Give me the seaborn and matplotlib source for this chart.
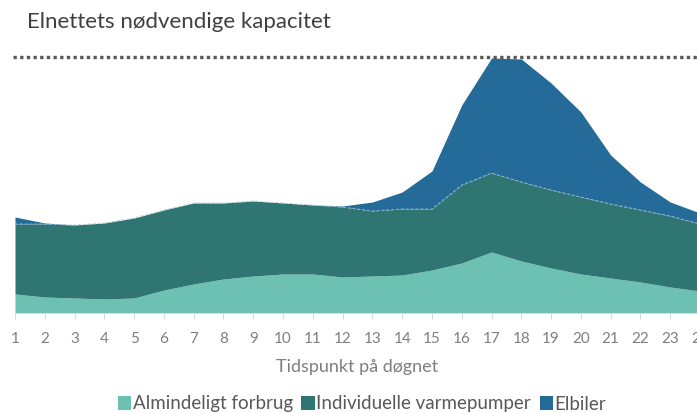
import matplotlib
matplotlib.use("Agg")
import matplotlib.pyplot as plt
import seaborn as sns
from matplotlib.patches import Patch

hours = list(range(1, 25))
almindeligt = [19, 16, 15, 14, 15, 23, 29, 34, 37, 39, 39, 36, 37, 38, 43, 50, 61, 52, 45, 39, 35, 31, 26, 22]
varmepumper = [70, 73, 73, 76, 80, 80, 81, 76, 75, 71, 69, 70, 65, 66, 61, 78, 79, 79, 78, 77, 74, 72, 71, 67]
elbiler = [7, 1, 0, 0, 0, 0, 0, 0, 0, 0, 0, 1, 9, 17, 38, 80, 115, 123, 107, 85, 49, 28, 14, 11]
kapacitet = 256
series_labels = ["Almindeligt forbrug", "Individuelle varmepumper", "Elbiler"]
title = "Elnettets nødvendige kapacitet"
xlabel = "Tidspunkt på døgnet"

colors = ["#6dc1b3", "#2f7571", "#246b99"]

sns.set_theme(style="white")
plt.rcParams['font.family'] = ['Lato', 'DejaVu Sans']

fig = plt.figure(figsize=(6.97, 4.13), dpi=100)
ax = fig.add_axes([15 / 697, 100 / 413, 685 / 697, 260 / 413])

ax.stackplot(hours, almindeligt, varmepumper, elbiler, colors=colors,
             labels=series_labels, linewidth=0)

# subtle dashed border on top of the heat-pump layer (visible under the EV layer)
teal_top = [a + v for a, v in zip(almindeligt, varmepumper)]
sns.lineplot(x=hours, y=teal_top, ax=ax, color="#a9c3cc", lw=0.7,
             linestyle=(0, (3, 2)), alpha=0.8, legend=False)

ax.plot([0.93, 24], [kapacitet, kapacitet], color="#5a5a5a", lw=2.4,
        linestyle=(0, (1, 1)), clip_on=False)

leg_old = ax.get_legend()
if leg_old is not None:
    leg_old.remove()

ax.set_xlim(1, 24)
ax.set_ylim(0, 260)
ax.set_xticks(hours)
ax.set_xticklabels([str(h) for h in hours])
ax.set_yticks([])
ax.set_ylabel("")
ax.tick_params(axis='x', bottom=True, length=4, width=0.8, color='#d9d9d9',
               labelcolor='#7f7f7f', labelsize=11, pad=10)
for s in ['left', 'top', 'right']:
    ax.spines[s].set_visible(False)
ax.spines['bottom'].set_color('#d9d9d9')
ax.spines['bottom'].set_linewidth(0.8)

ax.set_xlabel(xlabel, color='#7f7f7f', fontsize=13)
ax.xaxis.set_label_coords(0.5, -0.178)

fig.text(27 / 697, 1 - 22 / 413, title, va='center', ha='left',
         fontsize=16, color='#404040')

handles = [Patch(facecolor=c, edgecolor='none') for c in colors]
fig.legend(handles, series_labels, loc='center', bbox_to_anchor=(362 / 697, 9 / 413),
           ncol=3, frameon=False, fontsize=13.5, handlelength=0.7, handleheight=0.7,
           handletextpad=0.1, columnspacing=0.45, labelcolor='#595959',
           borderpad=0, borderaxespad=0)

fig.savefig("out.png", dpi=100)
